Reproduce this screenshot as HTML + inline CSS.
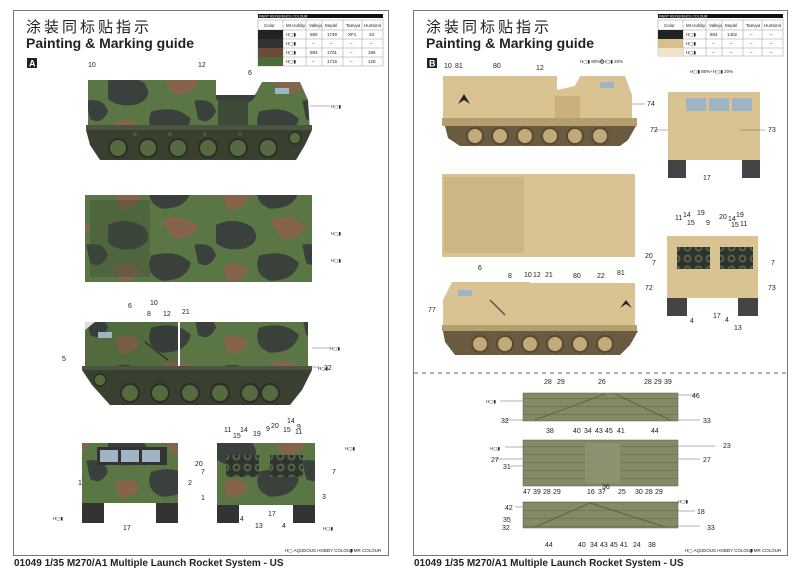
<!DOCTYPE html>
<html><head><meta charset="utf-8"><style>
html,body{margin:0;padding:0;background:#fff;width:800px;height:573px;overflow:hidden}
svg{display:block}
text{font-family:"Liberation Sans",sans-serif;fill:#222}
.cn{font-family:"Liberation Sans","Noto Sans CJK SC",sans-serif}
.n{font-size:7px}
</style></head><body>
<svg width="800" height="573" viewBox="0 0 800 573" xmlns="http://www.w3.org/2000/svg">
<defs>
<pattern id="camo" width="60" height="40" patternUnits="userSpaceOnUse" patternTransform="scale(1.8)">
<rect width="60" height="40" fill="#5a7644"/>
<path d="M0 5 Q10 0 20 6 Q26 14 16 18 Q6 20 0 15Z" fill="#3a403c"/>
<path d="M30 2 Q42 -2 50 6 Q46 14 36 12Z" fill="#86644c"/>
<path d="M24 22 Q38 18 46 26 Q44 36 30 36 Q20 32 24 22Z" fill="#3a403c"/>
<path d="M4 28 Q12 24 18 30 Q14 38 6 36Z" fill="#86644c"/>
<path d="M48 16 Q58 14 60 22 Q56 30 50 26Z" fill="#3a403c"/>
</pattern>
<pattern id="pod" width="10" height="8" patternUnits="userSpaceOnUse">
<rect width="10" height="8" fill="#838b66"/><rect y="6" width="10" height="1" fill="#6e7754"/>
</pattern>
<pattern id="tubes" width="11" height="11" patternUnits="userSpaceOnUse">
<rect width="11" height="11" fill="#2e332c"/><circle cx="5.5" cy="5.5" r="4" fill="#55604a"/><circle cx="5.5" cy="5.5" r="1.8" fill="#2a2e28"/>
</pattern>
</defs>
<rect x="13.5" y="10.5" width="375" height="545" fill="none" stroke="#777" stroke-width="1"/>
<rect x="413.5" y="10.5" width="374" height="545" fill="none" stroke="#777" stroke-width="1"/>
<line x1="414" y1="373" x2="787" y2="373" stroke="#888" stroke-width="1.2" stroke-dasharray="4,4"/>

<text x="26" y="32" class="cn" font-size="15" letter-spacing="3">涂装同标贴指示</text>
<text x="26" y="48" font-size="14" font-weight="bold">Painting &amp; Marking guide</text>
<text x="426" y="32" class="cn" font-size="15" letter-spacing="3">涂装同标贴指示</text>
<text x="426" y="48" font-size="14" font-weight="bold">Painting &amp; Marking guide</text>
<rect x="27" y="58" width="10" height="10" fill="#222"/><text x="29" y="66.5" font-size="9" font-weight="bold" style="fill:#fff">A</text>
<rect x="427" y="58" width="10" height="10" fill="#222"/><text x="429" y="66.5" font-size="9" font-weight="bold" style="fill:#fff">B</text>

<rect x="258" y="14" width="125" height="4" fill="#111"/>
<text x="259" y="17.5" font-size="3.5" style="fill:#fff">PAINT REFERENCE COLOUR</text>
<g stroke="#999" stroke-width=".5" fill="none">
<rect x="258" y="20" width="125" height="46"/>
<line x1="283" y1="20" x2="283" y2="66"/><line x1="306" y1="20" x2="306" y2="66"/><line x1="322" y1="20" x2="322" y2="66"/><line x1="343" y1="20" x2="343" y2="66"/><line x1="362" y1="20" x2="362" y2="66"/>
<line x1="258" y1="30" x2="383" y2="30"/><line x1="258" y1="39" x2="383" y2="39"/><line x1="258" y1="48" x2="383" y2="48"/><line x1="258" y1="57" x2="383" y2="57"/>
</g>
<rect x="258" y="30" width="25" height="9" fill="#222"/><rect x="258" y="39" width="25" height="9" fill="#2f3430"/><rect x="258" y="48" width="25" height="9" fill="#6b4a36"/><rect x="258" y="57" width="25" height="9" fill="#4d6a3a"/>
<g font-size="4.5"><text x="264" y="27">Color</text><text x="286" y="27">Mr.Hobby</text><text x="309" y="27">Vallejo</text><text x="325" y="27">Model</text><text x="346" y="27">Tamiya</text><text x="364" y="27">Humbrol</text>
<text x="286" y="36">H▢▮</text><text x="310" y="36">950</text><text x="327" y="36">1749</text><text x="348" y="36">XF1</text><text x="369" y="36">33</text>
<text x="286" y="45">H▢▮</text><text x="312" y="45">–</text><text x="330" y="45">–</text><text x="350" y="45">–</text><text x="370" y="45">–</text>
<text x="286" y="54">H▢▮</text><text x="310" y="54">983</text><text x="327" y="54">1701</text><text x="350" y="54">–</text><text x="368" y="54">186</text>
<text x="286" y="63">H▢▮</text><text x="312" y="63">–</text><text x="327" y="63">1716</text><text x="350" y="63">–</text><text x="368" y="63">120</text></g>

<rect x="658" y="14" width="125" height="4" fill="#111"/>
<text x="659" y="17.5" font-size="3.5" style="fill:#fff">PAINT REFERENCE COLOUR</text>
<g stroke="#999" stroke-width=".5" fill="none">
<rect x="658" y="20" width="125" height="36"/>
<line x1="683" y1="20" x2="683" y2="56"/><line x1="706" y1="20" x2="706" y2="56"/><line x1="722" y1="20" x2="722" y2="56"/><line x1="743" y1="20" x2="743" y2="56"/><line x1="762" y1="20" x2="762" y2="56"/>
<line x1="658" y1="30" x2="783" y2="30"/><line x1="658" y1="39" x2="783" y2="39"/><line x1="658" y1="48" x2="783" y2="48"/>
</g>
<rect x="658" y="30" width="25" height="9" fill="#222"/><rect x="658" y="39" width="25" height="9" fill="#d6c08c"/><rect x="658" y="48" width="25" height="8" fill="#eee3c8"/>
<g font-size="4.5"><text x="664" y="27">Color</text><text x="686" y="27">Mr.Hobby</text><text x="709" y="27">Vallejo</text><text x="725" y="27">Model</text><text x="746" y="27">Tamiya</text><text x="764" y="27">Humbrol</text>
<text x="686" y="36">H▢▮</text><text x="710" y="36">864</text><text x="727" y="36">1402</text><text x="750" y="36">–</text><text x="770" y="36">–</text>
<text x="686" y="45">H▢▮</text><text x="712" y="45">–</text><text x="730" y="45">–</text><text x="750" y="45">–</text><text x="770" y="45">–</text>
<text x="686" y="54">H▢▮</text><text x="712" y="54">–</text><text x="730" y="54">–</text><text x="750" y="54">–</text><text x="770" y="54">–</text></g>

<!-- A side 1 -->
<rect x="88" y="80" width="128" height="48" fill="url(#camo)"/>
<path d="M216 95 L255 95 L262 82 L300 82 L308 100 L310 130 L216 130Z" fill="url(#camo)"/>
<rect x="218" y="100" width="30" height="28" fill="#3e4a38"/>
<rect x="275" y="88" width="14" height="6" fill="#9fb4c4"/>
<rect x="86" y="125" width="226" height="5" fill="#4a5540"/>
<path d="M86 130 L312 130 L305 145 L296 160 L100 160 L90 145Z" fill="#3a4030"/>
<circle cx="295" cy="138" r="6" fill="#566a40" stroke="#2a2e24" stroke-width="1.5"/>
<g fill="#4a5a38"><circle cx="135" cy="134" r="2"/><circle cx="170" cy="134" r="2"/><circle cx="205" cy="134" r="2"/><circle cx="240" cy="134" r="2"/></g>
<g fill="#566a40" stroke="#2a2e24" stroke-width="2">
<circle cx="118" cy="148" r="9"/><circle cx="148" cy="148" r="9"/><circle cx="178" cy="148" r="9"/><circle cx="208" cy="148" r="9"/><circle cx="238" cy="148" r="9"/><circle cx="268" cy="148" r="9"/></g>
<!-- A top -->
<rect x="85" y="195" width="227" height="87" fill="url(#camo)"/>
<rect x="90" y="200" width="60" height="77" fill="#3f4e36" opacity=".4"/>
<!-- A side 2 -->
<path d="M85 330 L95 322 L178 322 L178 370 L85 370Z" fill="url(#camo)"/>
<rect x="85" y="322" width="93" height="48" fill="#2a3024" opacity=".15"/>
<rect x="98" y="332" width="14" height="6" fill="#9fb4c4"/>
<line x1="145" y1="342" x2="168" y2="360" stroke="#333" stroke-width="1.5"/>
<rect x="180" y="322" width="128" height="48" fill="url(#camo)"/>
<rect x="82" y="366" width="230" height="4" fill="#4a5540"/>
<path d="M82 370 L312 370 L302 390 L290 405 L110 405 L92 385Z" fill="#3a4030"/>
<circle cx="100" cy="380" r="6" fill="#566a40" stroke="#2a2e24" stroke-width="1.5"/>
<g fill="#566a40" stroke="#2a2e24" stroke-width="2">
<circle cx="130" cy="393" r="9"/><circle cx="160" cy="393" r="9"/><circle cx="190" cy="393" r="9"/><circle cx="220" cy="393" r="9"/><circle cx="250" cy="393" r="9"/><circle cx="270" cy="393" r="9"/></g>
<!-- A front -->
<rect x="82" y="443" width="96" height="60" fill="url(#camo)"/>
<rect x="97" y="447" width="70" height="18" fill="#333"/>
<rect x="100" y="450" width="18" height="12" fill="#9fb4c4"/><rect x="121" y="450" width="18" height="12" fill="#9fb4c4"/><rect x="142" y="450" width="18" height="12" fill="#9fb4c4"/>
<rect x="82" y="503" width="22" height="20" fill="#333"/><rect x="156" y="503" width="22" height="20" fill="#333"/>
<!-- A rear -->
<rect x="217" y="443" width="98" height="62" fill="url(#camo)"/>
<rect x="226" y="455" width="33" height="22" fill="url(#tubes)"/><rect x="270" y="455" width="33" height="22" fill="url(#tubes)"/>
<rect x="217" y="505" width="22" height="18" fill="#333"/><rect x="293" y="505" width="22" height="18" fill="#333"/>

<!-- B -->
<g fill="#d9c393">
<rect x="443" y="76" width="114" height="42"/>
<path d="M557 90 L575 86 L580 76 L625 76 L632 95 L632 118 L557 118Z"/>
<rect x="442" y="174" width="193" height="83"/>
<rect x="668" y="92" width="92" height="68"/>
<rect x="530" y="283" width="105" height="42"/>
<path d="M443 300 L452 282 L530 282 L530 325 L443 325Z"/>
<rect x="667" y="236" width="91" height="62"/>
</g>
<rect x="555" y="96" width="25" height="22" fill="#c9b07c"/>
<rect x="600" y="82" width="14" height="6" fill="#9fb4c4"/>
<path d="M458 104 L464 94 L470 104 L464 100Z" fill="#222"/>
<rect x="442" y="118" width="195" height="8" fill="#b59e6e"/>
<path d="M445 126 L636 126 L628 140 L620 146 L460 146 L448 138Z" fill="#6a5a40"/>
<g fill="#c2ab7a" stroke="#5a4a32" stroke-width="2">
<circle cx="475" cy="136" r="8"/><circle cx="500" cy="136" r="8"/><circle cx="525" cy="136" r="8"/><circle cx="550" cy="136" r="8"/><circle cx="575" cy="136" r="8"/><circle cx="600" cy="136" r="8"/></g>
<rect x="444" y="177" width="80" height="76" fill="#cdb686"/>
<rect x="686" y="98" width="20" height="13" fill="#9fb4c4"/><rect x="709" y="98" width="20" height="13" fill="#9fb4c4"/><rect x="732" y="98" width="20" height="13" fill="#9fb4c4"/>
<rect x="668" y="160" width="18" height="18" fill="#444"/><rect x="742" y="160" width="18" height="18" fill="#444"/>
<rect x="458" y="290" width="14" height="6" fill="#9fb4c4"/>
<line x1="490" y1="300" x2="505" y2="315" stroke="#555" stroke-width="1.5"/>
<path d="M620 308 L626 300 L632 308 L626 304Z" fill="#222"/>
<rect x="442" y="325" width="195" height="6" fill="#b59e6e"/>
<path d="M443 331 L638 331 L630 345 L620 355 L455 355 L445 342Z" fill="#6a5a40"/>
<g fill="#c2ab7a" stroke="#5a4a32" stroke-width="2">
<circle cx="480" cy="344" r="8"/><circle cx="505" cy="344" r="8"/><circle cx="530" cy="344" r="8"/><circle cx="555" cy="344" r="8"/><circle cx="580" cy="344" r="8"/><circle cx="605" cy="344" r="8"/></g>
<rect x="677" y="247" width="33" height="22" fill="url(#tubes)"/><rect x="720" y="247" width="33" height="22" fill="url(#tubes)"/>
<rect x="667" y="298" width="20" height="18" fill="#444"/><rect x="738" y="298" width="20" height="18" fill="#444"/>

<rect x="523" y="393" width="155" height="28" fill="url(#pod)" stroke="#5a6340" stroke-width=".5"/>
<rect x="523" y="440" width="155" height="46" fill="url(#pod)" stroke="#5a6340" stroke-width=".5"/>
<rect x="585" y="443" width="35" height="40" fill="#8a9270"/>
<rect x="523" y="502" width="155" height="26" fill="url(#pod)" stroke="#5a6340" stroke-width=".5"/>
<g stroke="#5f6845" stroke-width="1.2"><line x1="535" y1="420" x2="605" y2="394"/><line x1="615" y1="394" x2="670" y2="420"/><line x1="535" y1="527" x2="590" y2="503"/><line x1="590" y1="503" x2="665" y2="527"/></g>

<g stroke="#666" stroke-width=".5">
<line x1="500" y1="401" x2="523" y2="401"/><line x1="505" y1="420" x2="523" y2="420"/><line x1="678" y1="395" x2="698" y2="395"/><line x1="678" y1="420" x2="700" y2="420"/>
<line x1="505" y1="447" x2="523" y2="447"/><line x1="495" y1="459" x2="523" y2="459"/><line x1="510" y1="466" x2="523" y2="466"/>
<line x1="678" y1="446" x2="715" y2="446"/><line x1="678" y1="459" x2="700" y2="459"/>
<line x1="515" y1="507" x2="523" y2="507"/><line x1="678" y1="511" x2="695" y2="511"/><line x1="678" y1="526" x2="700" y2="526"/>
<line x1="310" y1="106" x2="330" y2="106"/><line x1="312" y1="348" x2="330" y2="348"/><line x1="310" y1="367" x2="320" y2="367"/>
<line x1="632" y1="104" x2="645" y2="104"/><line x1="740" y1="130" x2="765" y2="130"/><line x1="655" y1="130" x2="668" y2="130"/>
</g>

<g class="n">
<text x="88" y="67">10</text><text x="198" y="67">12</text><text x="248" y="75">6</text>
<text x="128" y="308">6</text><text x="150" y="305">10</text><text x="147" y="316">8</text><text x="163" y="316">12</text><text x="182" y="314">21</text>
<text x="62" y="361">5</text><text x="324" y="370">22</text>
<text x="78" y="485">1</text><text x="188" y="485">2</text><text x="123" y="530">17</text>
<text x="224" y="432">11</text><text x="240" y="432">14</text><text x="233" y="438">15</text><text x="253" y="436">19</text><text x="266" y="431">9</text><text x="271" y="428">20</text><text x="283" y="432">15</text><text x="287" y="423">14</text><text x="297" y="429">9</text><text x="295" y="434">11</text>
<text x="195" y="466">20</text><text x="201" y="474">7</text><text x="332" y="474">7</text><text x="201" y="500">1</text><text x="322" y="499">3</text>
<text x="240" y="521">4</text><text x="268" y="516">17</text><text x="282" y="528">4</text><text x="255" y="528">13</text>
<text x="444" y="68">10</text><text x="455" y="68">81</text><text x="493" y="68">80</text><text x="536" y="70">12</text><text x="600" y="64">6</text>
<text x="647" y="106">74</text><text x="650" y="132">72</text><text x="768" y="132">73</text><text x="703" y="180">17</text>
<text x="478" y="270">6</text><text x="508" y="278">8</text><text x="524" y="277">10</text><text x="533" y="277">12</text><text x="545" y="277">21</text><text x="573" y="278">80</text><text x="597" y="278">22</text><text x="617" y="275">81</text>
<text x="428" y="312">77</text>
<text x="675" y="220">11</text><text x="683" y="217">14</text><text x="687" y="225">15</text><text x="697" y="215">19</text><text x="706" y="225">9</text><text x="719" y="219">20</text><text x="728" y="221">14</text><text x="736" y="217">19</text><text x="731" y="227">15</text><text x="740" y="226">11</text>
<text x="645" y="258">20</text><text x="652" y="265">7</text><text x="771" y="265">7</text><text x="645" y="290">72</text><text x="768" y="290">73</text>
<text x="690" y="323">4</text><text x="713" y="318">17</text><text x="725" y="322">4</text><text x="734" y="330">13</text>
<text x="544" y="384">28</text><text x="557" y="384">29</text><text x="598" y="384">26</text><text x="644" y="384">28</text><text x="654" y="384">29</text><text x="664" y="384">39</text><text x="692" y="398">46</text>
<text x="501" y="423">32</text><text x="703" y="423">33</text><text x="546" y="433">38</text><text x="573" y="433">40</text><text x="584" y="433">34</text><text x="595" y="433">43</text><text x="605" y="433">45</text><text x="617" y="433">41</text><text x="651" y="433">44</text>
<text x="723" y="448">23</text><text x="491" y="462">27</text><text x="703" y="462">27</text><text x="503" y="469">31</text>
<text x="523" y="494">47</text><text x="533" y="494">39</text><text x="543" y="494">28</text><text x="553" y="494">29</text><text x="587" y="494">16</text><text x="598" y="494">37</text><text x="602" y="489">36</text><text x="618" y="494">25</text><text x="635" y="494">30</text><text x="645" y="494">28</text><text x="655" y="494">29</text>
<text x="505" y="510">42</text><text x="503" y="522">35</text><text x="502" y="530">32</text><text x="697" y="514">18</text><text x="707" y="530">33</text>
<text x="545" y="547">44</text><text x="578" y="547">40</text><text x="590" y="547">34</text><text x="600" y="547">43</text><text x="610" y="547">45</text><text x="620" y="547">41</text><text x="633" y="547">24</text><text x="648" y="547">38</text>
</g>
<g font-size="4.5">
<text x="331" y="108">H▢▮</text><text x="331" y="262">H▢▮</text><text x="331" y="235">H▢▮</text><text x="330" y="350">H▢▮</text><text x="318" y="370">H▢▮</text><text x="345" y="450">H▢▮</text><text x="323" y="530">H▢▮</text><text x="53" y="520">H▢▮</text>
<text x="486" y="403">H▢▮</text><text x="490" y="450">H▢▮</text><text x="678" y="503">H▢▮</text><text x="580" y="63">H▢▮ 80%+H▢▮ 20%</text><text x="690" y="73">H▢▮ 80%+H▢▮ 20%</text>
<text x="685" y="552">H▢ AQUEOUS HOBBY COLOUR</text><text x="750" y="552">▮ MR COLOUR</text>
<text x="285" y="552">H▢ AQUEOUS HOBBY COLOUR</text><text x="350" y="552">▮ MR COLOUR</text>
</g>

<text x="14" y="566" font-size="10" font-weight="bold">01049 1/35 M270/A1 Multiple Launch Rocket System - US</text>
<text x="414" y="566" font-size="10" font-weight="bold">01049 1/35 M270/A1 Multiple Launch Rocket System - US</text>
</svg>
</body></html>
